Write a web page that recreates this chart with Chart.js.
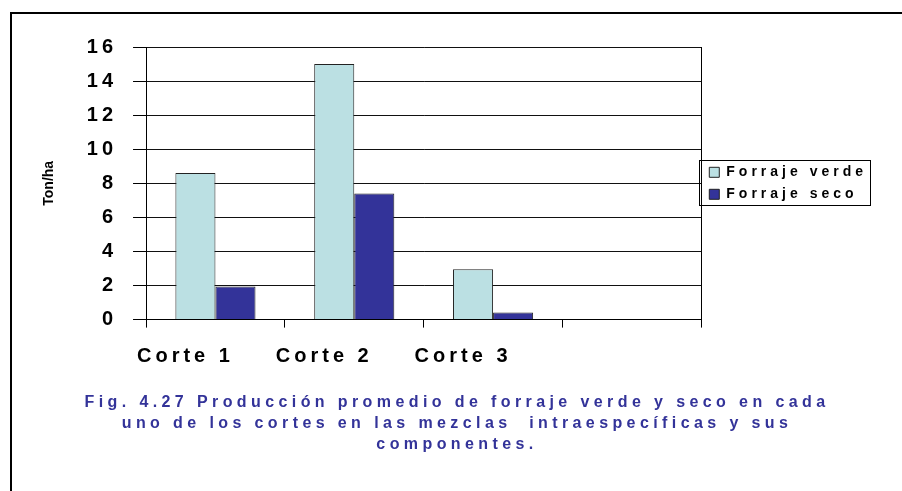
<!DOCTYPE html>
<html>
<head>
<meta charset="utf-8">
<script src="https://cdn.jsdelivr.net/npm/chart.js"></script>
<style>
  html, body { margin: 0; padding: 0; background: #fff; }
  #wrap { position: relative; width: 902px; height: 491px; overflow: hidden; }
  #frame { position: absolute; left: 10px; top: 12px; width: 1000px; height: 1000px;
           border-left: 2px solid #000; border-top: 2px solid #000; }
  canvas { position: absolute; left: 0; top: 0; }
</style>
</head>
<body>
<div id="wrap">
  <div id="frame"></div>
  <canvas id="myChart" width="902" height="491"></canvas>
</div>
<script>
// DATA
const categories = ["Corte 1", "Corte 2", "Corte 3", ""];
const seriesNames = ["Forraje verde", "Forraje seco"];
const forrajeVerde = [8.6, 15.0, 2.95, null];
const forrajeSeco = [1.95, 7.4, 0.42, null];
const yTitle = "Ton/ha";
const captionLines = [
  "Fig. 4.27 Producción promedio de forraje verde y seco en cada",
  "uno de los cortes en las mezclas  intraespecíficas y sus",
  "componentes.",
];

const FONT = "'Liberation Sans', Arial, sans-serif";

// canvas letterSpacing, the original text is spaced out
function withSpacing(obj, method, spacing) {
  if (!obj || obj["_ls_" + method]) return;
  const orig = obj[method];
  obj[method] = function () {
    const c = this.ctx;
    const old = c.letterSpacing;
    c.letterSpacing = spacing;
    const r = orig.apply(this, arguments);
    c.letterSpacing = old;
    return r;
  };
  obj["_ls_" + method] = true;
}

const spacingPlugin = {
  id: "spacing",
  beforeUpdate(chart) { chart.ctx.letterSpacing = "4px"; },
  beforeLayout(chart) { chart.ctx.letterSpacing = "4px"; },
  beforeDraw(chart) {
    chart.ctx.letterSpacing = "4px";
    withSpacing(chart.scales.y, "drawTitle", "0px");
    withSpacing(chart.titleBlock, "draw", "4.4px");
  },
};

// border round the legend
const legendBox = {
  id: "legendBox",
  afterDraw(chart) {
    const boxes = chart.legend.legendHitBoxes;
    if (!boxes || !boxes.length) return;
    const l = Math.min(...boxes.map((b) => b.left)) - 10;
    const t = Math.min(...boxes.map((b) => b.top)) - 5;
    const r = Math.max(...boxes.map((b) => b.left + b.width)) + 3;
    const b = Math.max(...boxes.map((b) => b.top + b.height)) + 4;
    const ctx = chart.ctx;
    ctx.save();
    ctx.strokeStyle = "#000";
    ctx.lineWidth = 1;
    ctx.strokeRect(Math.round(l) + 0.5, Math.round(t) + 0.5, Math.round(r - l), Math.round(b - t));
    ctx.restore();
  },
};

const ctx = document.getElementById("myChart");
const chart = new Chart(ctx, {
  type: "bar",
  data: {
    labels: categories,
    datasets: [
      {
        label: seriesNames[0],
        data: forrajeVerde,
        backgroundColor: "#BBE0E3",
        borderColor: "#222",
        borderWidth: 1,
      },
      {
        label: seriesNames[1],
        data: forrajeSeco,
        backgroundColor: "#333399",
        borderColor: "#222",
        borderWidth: 1,
      },
    ],
  },
  options: {
    responsive: false,
    animation: false,
    categoryPercentage: 0.577,
    barPercentage: 1,
    layout: { padding: { left: 37, right: 25, top: 47, bottom: 4 } },
    scales: {
      x: {
        grid: {
          offset: true,
          color: (c) => (c.index === 0 || c.index === undefined ? "#000" : "rgba(0,0,0,0)"),
          tickColor: "#000",
          tickLength: 8,
        },
        border: { color: "#000", width: 1 },
        ticks: {
          color: "#000",
          font: { family: FONT, size: 20, weight: "bold" },
          padding: 17,
          maxRotation: 0,
          labelOffset: -30,
        },
      },
      y: {
        min: 0,
        max: 16,
        ticks: {
          stepSize: 2,
          color: "#000",
          font: { family: FONT, size: 20, weight: "bold" },
          padding: 16,
        },
        grid: { color: "#111", tickColor: "#000", tickLength: 13 },
        border: { color: "#000", width: 1 },
        title: {
          display: true,
          text: yTitle,
          color: "#000",
          font: { family: FONT, size: 14, weight: "bold" },
          padding: { top: 4, bottom: 13 },
        },
      },
    },
    plugins: {
      legend: {
        position: "right",
        fullSize: false,
        labels: {
          color: "#000",
          font: { family: FONT, size: 14, weight: "bold" },
          boxWidth: 10,
          boxHeight: 10,
          padding: 8,
        },
      },
      title: {
        display: true,
        position: "bottom",
        text: captionLines,
        color: "#333399",
        font: { family: FONT, size: 16, weight: "bold", lineHeight: 1.3 },
        padding: { top: 7, bottom: 32 },
      },
      tooltip: { enabled: false },
    },
  },
  plugins: [spacingPlugin, legendBox],
});
chart.draw();
</script>
</body>
</html>
